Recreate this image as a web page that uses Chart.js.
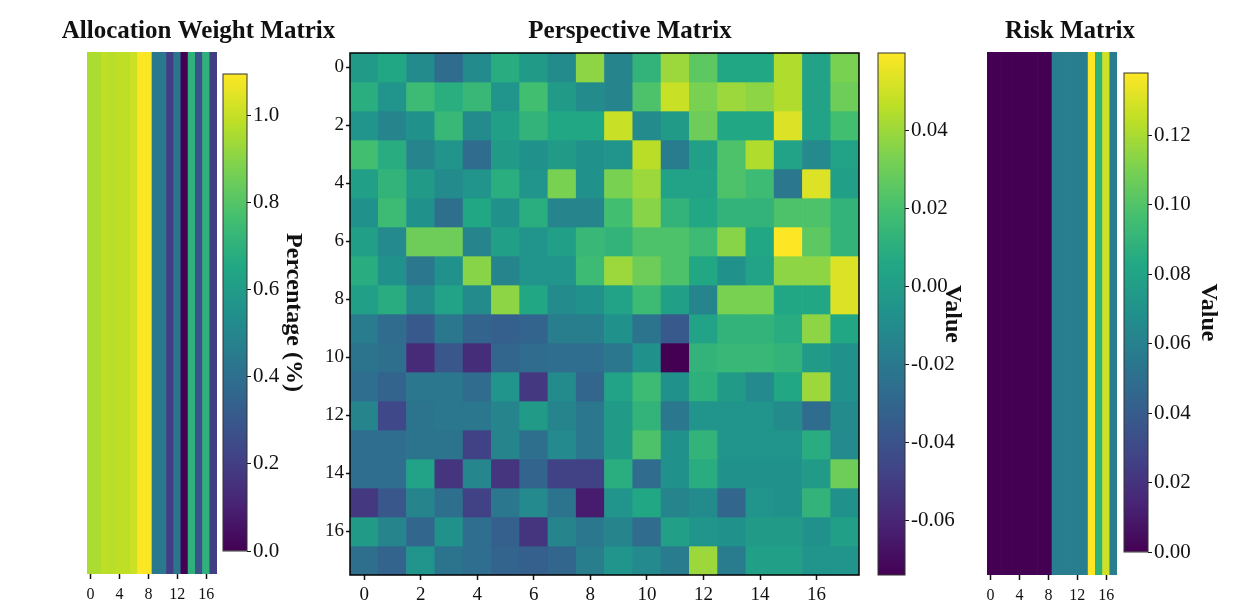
<!DOCTYPE html>
<html>
<head>
<meta charset="utf-8">
<title>Allocation / Perspective / Risk matrices</title>
<script src="https://cdn.jsdelivr.net/npm/chart.js@4.4.1/dist/chart.umd.min.js"></script>
<style>
  html, body { margin: 0; padding: 0; background: #fff; }
  #fig { position: relative; width: 1240px; height: 609px; overflow: hidden; }
  .panel { position: absolute; top: 0; height: 609px; }
</style>
</head>
<body>
<div id="fig">
  <div class="panel" style="left:58px;width:281px"><canvas id="alloc"></canvas></div>
  <div class="panel" style="left:200px;width:115px"><canvas id="allocBar"></canvas></div>
  <div class="panel" style="left:320px;width:620px"><canvas id="persp"></canvas></div>
  <div class="panel" style="left:860px;width:110px"><canvas id="perspBar"></canvas></div>
  <div class="panel" style="left:980px;width:180px"><canvas id="risk"></canvas></div>
  <div class="panel" style="left:1110px;width:120px"><canvas id="riskBar"></canvas></div>
</div>
<script>
// ---- values ----
const cells = ['0','1','2','3','4','5','6','7','8','9','10','11','12','13','14','15','16','17'];

const allocWeights = [0.96, 0.96, 0.99, 0.98, 0.99, 0.99, 1.01, 1.096, 1.09,
                      0.44, 0.44, 0.20, 0.43, 0.00, 0.70, 0.28, 0.70, 0.20];

const riskValues = [0, 0, 0, 0, 0, 0, 0, 0, 0,
                    0.058, 0.058, 0.058, 0.058, 0.058, 0.138, 0.088, 0.128, 0.058];

const perspective = [
  [-0.001, 0.006,-0.010,-0.027,-0.010, 0.009,-0.001,-0.010, 0.037,-0.014, 0.013, 0.040, 0.026, 0.006, 0.006, 0.044, 0.003, 0.033],
  [ 0.010,-0.005, 0.017, 0.010, 0.015,-0.005, 0.019,-0.001,-0.010,-0.014, 0.022, 0.049, 0.033, 0.040, 0.037, 0.044, 0.003, 0.030],
  [-0.005,-0.014,-0.007, 0.015,-0.010, 0.002, 0.013, 0.006, 0.006, 0.049,-0.010,-0.001, 0.030, 0.006, 0.006, 0.053, 0.003, 0.019],
  [ 0.019, 0.009,-0.014,-0.005,-0.027,-0.001,-0.007,-0.001,-0.007,-0.005, 0.046,-0.018, 0.002, 0.022, 0.044, 0.003,-0.011, 0.003],
  [ 0.002, 0.013,-0.001,-0.010,-0.005, 0.010,-0.005, 0.033,-0.007, 0.033, 0.040, 0.003, 0.003, 0.022, 0.017,-0.021, 0.053, 0.002],
  [-0.007, 0.017,-0.007,-0.025, 0.006,-0.007, 0.010,-0.014,-0.014, 0.019, 0.036, 0.013, 0.006, 0.013, 0.013, 0.022, 0.022, 0.013],
  [ 0.002,-0.011, 0.030, 0.030,-0.014, 0.002,-0.005, 0.001, 0.015, 0.013, 0.022, 0.022, 0.017, 0.036, 0.006, 0.060, 0.026, 0.013],
  [ 0.009,-0.007,-0.021,-0.007, 0.036,-0.014,-0.005,-0.005, 0.017, 0.040, 0.030, 0.022, 0.006,-0.007, 0.003, 0.037, 0.037, 0.053],
  [ 0.002, 0.009,-0.010, 0.003,-0.010, 0.037, 0.006,-0.010,-0.007, 0.003, 0.017, 0.002,-0.014, 0.033, 0.033, 0.006, 0.006, 0.053],
  [-0.018,-0.027,-0.037,-0.021,-0.031,-0.034,-0.031,-0.017,-0.017,-0.007,-0.023,-0.037, 0.003, 0.013, 0.013, 0.009, 0.037, 0.006],
  [-0.023,-0.025,-0.058,-0.038,-0.057,-0.030,-0.027,-0.026,-0.026,-0.021,-0.007,-0.074, 0.013, 0.015, 0.015, 0.013,-0.001,-0.007],
  [-0.026,-0.031,-0.021,-0.021,-0.027,-0.005,-0.052,-0.010,-0.030, 0.003, 0.017,-0.007, 0.011,-0.001,-0.011, 0.006, 0.040,-0.007],
  [-0.014,-0.045,-0.023,-0.021,-0.021,-0.014,-0.001,-0.014,-0.021,-0.001, 0.013,-0.021,-0.005,-0.005,-0.005,-0.010,-0.027,-0.010],
  [-0.026,-0.026,-0.023,-0.023,-0.048,-0.014,-0.025,-0.011,-0.021,-0.001, 0.022,-0.007, 0.013,-0.005,-0.005,-0.005, 0.009,-0.011],
  [-0.026,-0.026, 0.003,-0.054,-0.013,-0.054,-0.031,-0.048,-0.048, 0.010,-0.027,-0.007, 0.009,-0.007,-0.007,-0.007,-0.001, 0.030],
  [-0.052,-0.038,-0.014,-0.025,-0.048,-0.021,-0.011,-0.023,-0.064,-0.005, 0.006,-0.014,-0.010,-0.030,-0.005,-0.007, 0.013,-0.007],
  [-0.001,-0.014,-0.030,-0.007,-0.026,-0.034,-0.054,-0.014,-0.021,-0.014,-0.027, 0.002,-0.005,-0.007,-0.001,-0.001,-0.007, 0.001],
  [-0.025,-0.031,-0.005,-0.023,-0.026,-0.031,-0.034,-0.030,-0.017,-0.005,-0.011,-0.018, 0.040,-0.018, 0.002, 0.002,-0.005,-0.005]
];

const edgeTicks = [0, 4, 8, 12, 16];
const perspTicks = [0, 2, 4, 6, 8, 10, 12, 14, 16];
const allocBarTicks = [0.0, 0.2, 0.4, 0.6, 0.8, 1.0];
const perspBarTicks = [-0.06, -0.04, -0.02, 0.00, 0.02, 0.04];
const riskBarTicks = [0.00, 0.02, 0.04, 0.06, 0.08, 0.10, 0.12];

// ---- styling helpers ----
const SERIF = "'Liberation Serif', 'Times New Roman', serif";
const INK = '#111';
const VIRIDIS = ['#440154', '#482475', '#414487', '#355f8d', '#2a788e', '#21918c',
                 '#22a884', '#44bf70', '#7ad151', '#bddf26', '#fde725'];

function hexRgb(h) {
  const n = parseInt(h.slice(1), 16);
  return [n >> 16, (n >> 8) & 255, n & 255];
}

function viridis(t) {
  t = Math.max(0, Math.min(1, t));
  const s = t * (VIRIDIS.length - 1);
  const i = Math.min(Math.floor(s), VIRIDIS.length - 2);
  const f = s - i;
  const a = hexRgb(VIRIDIS[i]), b = hexRgb(VIRIDIS[i + 1]);
  const c = a.map((v, k) => Math.round(v + (b[k] - v) * f));
  return `rgb(${c[0]},${c[1]},${c[2]})`;
}

// colour scale spanning the data range, like imshow's default vmin/vmax
function scaler(values) {
  const lo = Math.min(...values), hi = Math.max(...values);
  return { lo, hi, color: v => viridis((v - lo) / (hi - lo)) };
}

const framePlugin = {
  id: 'frame',
  afterDatasetsDraw(chart, args, opts) {
    const { ctx, chartArea: a } = chart;
    ctx.save();
    ctx.strokeStyle = opts.color;
    ctx.lineWidth = opts.width;
    ctx.strokeRect(a.left, a.top, a.right - a.left, a.bottom - a.top);
    ctx.restore();
  }
};

const fixedTicks = list => scale => { scale.ticks = list.map(v => ({ value: v })); };

const baseOptions = {
  responsive: true,
  maintainAspectRatio: false,
  animation: false,
  events: []
};

// empty axis used only to reserve room beside the plot
function spacer(position, size, extra) {
  return Object.assign({
    position,
    display: true,
    ticks: { display: false },
    grid: { display: false },
    border: { display: false },
    afterFit: s => { s.width = size; }
  }, extra || {});
}

function bottomAxis(list, fontSize, height, pad) {
  return {
    type: 'category',
    afterBuildTicks: fixedTicks(list),
    afterFit: s => { s.height = height; },
    ticks: { autoSkip: false, maxRotation: 0, padding: pad, color: INK, font: { family: SERIF, size: fontSize } },
    grid: { display: true, offset: false, drawOnChartArea: false, tickLength: 5, tickWidth: 1.5, tickColor: INK },
    border: { display: false }
  };
}

function titleOpts(text, bottom) {
  return {
    display: true, text, color: INK,
    font: { family: SERIF, size: 25, weight: 'bold' },
    padding: { top: 17, bottom }
  };
}

function stripeChart(id, title, values, leftW, rightW) {
  const sc = scaler(values);
  const chart = new Chart(document.getElementById(id), {
    type: 'bar',
    data: {
      labels: cells,
      datasets: [{
        data: values.map(() => [0, 1]),
        backgroundColor: values.map(sc.color),
        barPercentage: 1, categoryPercentage: 1, borderWidth: 0
      }]
    },
    options: Object.assign({}, baseOptions, {
      plugins: { legend: { display: false }, tooltip: { enabled: false }, title: titleOpts(title, 5) },
      scales: {
        x: bottomAxis(edgeTicks, 16, id === 'alloc' ? 35 : 34, 6),
        y: spacer('left', leftW, { type: 'linear', min: 0, max: 1, reverse: true }),
        pad: spacer('right', rightW, { type: 'linear' })
      }
    })
  });
  return { chart, sc };
}

function gradientFor(chart, sc) {
  const y = chart.scales.y;
  if (!y || !chart.chartArea) return VIRIDIS[5];
  const g = chart.ctx.createLinearGradient(0, y.getPixelForValue(sc.lo), 0, y.getPixelForValue(sc.hi));
  VIRIDIS.forEach((c, i) => g.addColorStop(i / (VIRIDIS.length - 1), c));
  return g;
}

function colorBar(id, sc, list, digits, label, pads, axisW) {
  return new Chart(document.getElementById(id), {
    type: 'bar',
    data: {
      labels: [''],
      datasets: [{
        data: [[sc.lo, sc.hi]],
        backgroundColor: ctx => gradientFor(ctx.chart, sc),
        barPercentage: 1, categoryPercentage: 1, borderWidth: 0
      }]
    },
    options: Object.assign({}, baseOptions, {
      layout: { padding: pads },
      plugins: { legend: { display: false }, tooltip: { enabled: false }, frame: { color: '#333', width: 1 } },
      scales: {
        x: { display: false },
        y: {
          position: 'right', min: sc.lo, max: sc.hi,
          afterBuildTicks: fixedTicks(list),
          afterFit: s => { s.width = axisW; },
          ticks: { callback: v => v.toFixed(digits), padding: 2, color: INK, font: { family: SERIF, size: 21 } },
          grid: { drawOnChartArea: false, tickLength: 4, tickWidth: 1, tickColor: INK },
          border: { display: false },
          title: { display: true, text: label, color: INK, padding: 0, font: { family: SERIF, size: 24, weight: 'bold' } }
        }
      }
    }),
    plugins: [framePlugin]
  });
}

// ---- allocation weights ----
const alloc = stripeChart('alloc', 'Allocation Weight Matrix', allocWeights, 29, 122);
colorBar('allocBar', alloc.sc, allocBarTicks, 1, 'Percentage (%)', { left: 23, right: 7, top: 74, bottom: 58 }, 61);

// ---- perspective matrix ----
const perspScale = scaler(perspective.flat());
new Chart(document.getElementById('persp'), {
  type: 'bar',
  data: {
    labels: cells,
    datasets: perspective.map((row, r) => ({
      data: row.map(() => [r, r + 1]),
      backgroundColor: row.map(perspScale.color),
      grouped: false, barPercentage: 1, categoryPercentage: 1, borderWidth: 0
    }))
  },
  options: Object.assign({}, baseOptions, {
    plugins: {
      legend: { display: false }, tooltip: { enabled: false },
      title: titleOpts('Perspective Matrix', 6),
      frame: { color: '#000', width: 1.5 }
    },
    scales: {
      x: bottomAxis(perspTicks, 19, 34, 4),
      y: {
        type: 'linear', min: 0, max: cells.length, reverse: true,
        afterBuildTicks: s => { s.ticks = perspTicks.map(v => ({ value: v + 0.5 })); },
        afterFit: s => { s.width = 30; },
        ticks: { callback: (v, i) => String(perspTicks[i]), padding: 2, color: INK, font: { family: SERIF, size: 19 } },
        grid: { drawOnChartArea: false, tickLength: 4, tickWidth: 1.5, tickColor: INK },
        border: { display: false }
      },
      pad: spacer('right', 81, { type: 'linear' })
    }
  }),
  plugins: [framePlugin]
});
colorBar('perspBar', perspScale, perspBarTicks, 2, 'Value', { left: 18, right: 3, top: 53, bottom: 34 }, 62);

// ---- risk ----
const risk = stripeChart('risk', 'Risk Matrix', riskValues, 7, 43);
colorBar('riskBar', risk.sc, riskBarTicks, 2, 'Value', { left: 14, right: 7, top: 73, bottom: 57 }, 75);
</script>
</body>
</html>
